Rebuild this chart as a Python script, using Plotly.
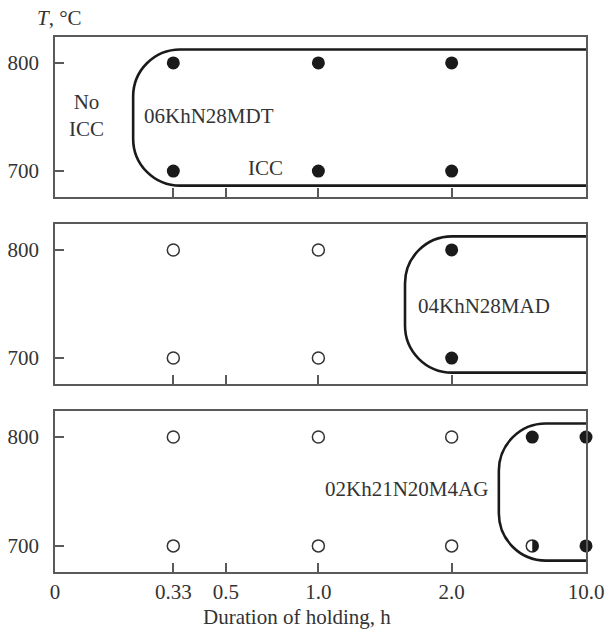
import numpy as np
import plotly.graph_objects as go

# ---------------- data ----------------
tick_labels = ["0", "0.33", "0.5", "1.0", "2.0", "10.0"]
tick_hours = [0.0, 0.33, 0.5, 1.0, 2.0, 10.0]
tick_pos = [0.0, 0.2228, 0.322, 0.496, 0.747, 1.0]   # non-uniform axis scale

temps = [800, 700]

steels = ["06KhN28MDT", "04KhN28MAD", "02Kh21N20M4AG"]

# ICC (intercrystalline corrosion) observations per panel: hours, temp, state
p1_hours = [0.33, 1.0, 2.0, 0.33, 1.0, 2.0]
p1_temp = [800, 800, 800, 700, 700, 700]
p1_state = ["icc", "icc", "icc", "icc", "icc", "icc"]

p2_hours = [0.33, 1.0, 2.0, 0.33, 1.0, 2.0]
p2_temp = [800, 800, 800, 700, 700, 700]
p2_state = ["no", "no", "icc", "no", "no", "icc"]

p3_hours = [0.33, 1.0, 2.0, 6.8, 10.0, 0.33, 1.0, 2.0, 6.8, 10.0]
p3_temp = [800, 800, 800, 800, 800, 700, 700, 700, 700, 700]
p3_state = ["no", "no", "no", "icc", "icc", "no", "no", "no", "half", "icc"]

# ICC region boundary (left edge in hours, top/bottom temperature)
icc_left_hours = [0.218, 1.65, 4.81]
icc_top = 812.5
icc_bottom = 686.5

# ---------------- helpers ----------------
def to_pos(h):
    return np.interp(h, tick_hours, tick_pos)

INK = "#1a1a1a"
AX = "#5a5a5a"
FONT = "Liberation Serif"
FS = 21

fig = go.Figure()
panels = [(p1_hours, p1_temp, p1_state), (p2_hours, p2_temp, p2_state), (p3_hours, p3_temp, p3_state)]
axn = ["", "2", "3"]

for i, (hh, tt, ss) in enumerate(panels):
    xs = to_pos(np.array(hh))
    for state in ["icc", "no", "half"]:
        idx = [k for k, s in enumerate(ss) if s == state]
        if not idx:
            continue
        if state == "icc":
            marker = dict(size=13, color=INK, symbol="circle", line=dict(width=0))
        else:
            marker = dict(size=12, color="white", symbol="circle", line=dict(width=1.5, color="#333333"))
        fig.add_trace(go.Scatter(
            x=[xs[k] for k in idx], y=[tt[k] for k in idx], mode="markers",
            marker=marker, cliponaxis=False, showlegend=False,
            xaxis="x" + axn[i], yaxis="y" + axn[i], hoverinfo="skip"))
        if state == "half":
            for k in idx:
                r = 6.2
                c = 0.5523 * r
                fig.add_shape(type="path", xref="x" + axn[i], yref="y" + axn[i],
                              xsizemode="pixel", ysizemode="pixel",
                              xanchor=xs[k], yanchor=tt[k],
                              path=f"M 0,{r} C {c},{r} {r},{c} {r},0 C {r},{-c} {c},{-r} 0,{-r} Z",
                              fillcolor=INK, line=dict(width=0), layer="above")

# ICC boundary shapes
rx = 0.0885
ry = 43.5
k = 0.5523
for i, lh in enumerate(icc_left_hours):
    L = float(to_pos(lh))
    T, B = icc_top, icc_bottom
    path = (f"M 1.0,{T} L {L+rx},{T} "
            f"C {L+rx-k*rx},{T} {L},{T-ry+k*ry} {L},{T-ry} "
            f"L {L},{B+ry} "
            f"C {L},{B+ry-k*ry} {L+rx-k*rx},{B} {L+rx},{B} "
            f"L 1.0,{B}")
    fig.add_shape(type="path", xref="x" + axn[i], yref="y" + axn[i], path=path,
                  line=dict(color=INK, width=2.6), layer="above")

# text annotations
ann = [
    dict(text="No<br>ICC", x=0.060, y=751, ax="x", ay="y"),
    dict(text=steels[0], x=0.290, y=751, ax="x", ay="y"),
    dict(text="ICC", x=0.397, y=703, ax="x", ay="y"),
    dict(text=steels[1], x=0.808, y=748, ax="x2", ay="y2"),
    dict(text=steels[2], x=0.662, y=752, ax="x3", ay="y3"),
]
for a in ann:
    fig.add_annotation(text=a["text"], x=a["x"], y=a["y"], xref=a["ax"], yref=a["ay"],
                       showarrow=False, font=dict(family=FONT, size=FS, color="#333333"),
                       align="center")

fig.add_annotation(text="<i>T</i>, °C", xref="paper", yref="paper", x=-0.038, y=1.035,
                   xanchor="left", yanchor="middle", showarrow=False,
                   font=dict(family=FONT, size=FS, color="#333333"))
fig.add_annotation(text="Duration of holding, h", xref="paper", yref="paper", x=0.456, y=-0.085,
                   xanchor="center", yanchor="middle", showarrow=False,
                   font=dict(family=FONT, size=FS, color="#333333"))

domains = [[0.7009, 1.0], [0.3514, 0.6505], [0.0, 0.301]]
layout = dict(
    width=605, height=636,
    margin=dict(l=55, r=19, t=37, b=64, autoexpand=False),
    plot_bgcolor="white", paper_bgcolor="white",
    font=dict(family=FONT, size=FS, color="#333333"),
    showlegend=False,
)
for i in range(3):
    xa = dict(range=[0, 1], domain=[0, 1], anchor="y" + axn[i],
              tickvals=tick_pos, ticktext=tick_labels, automargin=False,
              showticklabels=(i == 2), ticks="inside", ticklen=9, tickwidth=1.5,
              tickcolor=AX, showline=True, linecolor=AX, linewidth=1.5, mirror=True,
              showgrid=False, zeroline=False, fixedrange=True, ticklabelstandoff=0)
    ya = dict(range=[676, 824], domain=domains[i], anchor="x" + axn[i],
              tickvals=temps, ticks="inside", ticklen=9, tickwidth=1.5, automargin=False,
              tickcolor=AX, showline=True, linecolor=AX, linewidth=1.5, mirror=True,
              showgrid=False, zeroline=False, fixedrange=True, ticklabelstandoff=10)
    layout["xaxis" + axn[i]] = xa
    layout["yaxis" + axn[i]] = ya

fig.update_layout(**layout)
fig.write_html("out.html", config={"displayModeBar": False},
               post_script="document.body.style.margin='0';document.body.style.overflow='hidden';")
